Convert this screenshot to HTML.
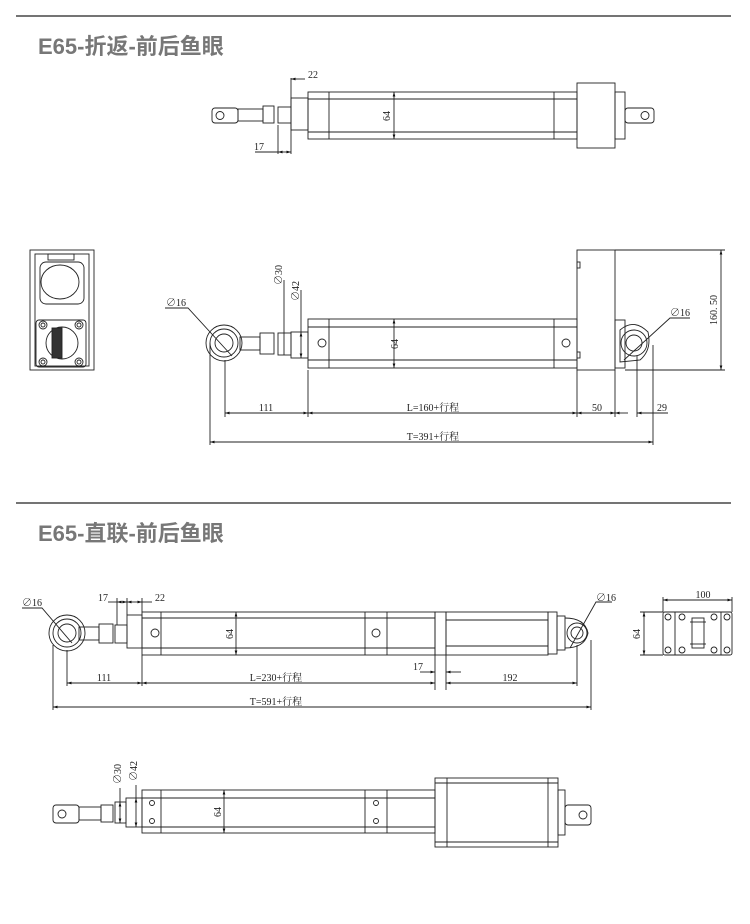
<!DOCTYPE html>
<html><head><meta charset="utf-8"><style>
html,body{margin:0;padding:0;background:#fff}
svg{display:block}
.t{font-family:"Liberation Sans","Noto Sans CJK SC",sans-serif;font-weight:bold;fill:#777;font-size:22px}
.d{font-family:"Liberation Serif","Noto Serif CJK SC",serif;font-size:10px;fill:#222}
</style></head><body>
<svg width="750" height="924" viewBox="0 0 750 924" xmlns="http://www.w3.org/2000/svg">
<defs>
<marker id="a" viewBox="0 0 10 10" refX="10" refY="5" markerWidth="7" markerHeight="5" orient="auto-start-reverse"><path d="M0,2 L10,5 L0,8 z" fill="#111"/></marker>
</defs>
<g fill="none" stroke="#222" stroke-width="0.9">
<line x1="16" y1="16" x2="731" y2="16" stroke-width="1.2"/>
<line x1="16" y1="503" x2="731" y2="503" stroke-width="1.2"/>

<!-- FIG 1 top -->
<rect x="308" y="92" width="269" height="47"/>
<line x1="308" y1="99" x2="577" y2="99"/><line x1="308" y1="132" x2="577" y2="132"/>
<line x1="329" y1="92" x2="329" y2="139"/><line x1="554" y1="92" x2="554" y2="139"/>
<rect x="291" y="98" width="17" height="32"/>
<rect x="278" y="107" width="13" height="16"/>
<rect x="263" y="106" width="11" height="17"/>
<rect x="238" y="109" width="25" height="12"/>
<rect x="212" y="108" width="26" height="15" rx="3"/>
<circle cx="220" cy="115.5" r="4"/>
<rect x="577" y="83" width="38" height="65"/>
<rect x="615" y="92" width="10" height="47"/>
<rect x="625" y="108" width="29" height="15" rx="3"/>
<circle cx="645" cy="115.5" r="4"/>
<line x1="394" y1="92" x2="394" y2="139" marker-start="url(#a)" marker-end="url(#a)"/>
<line x1="291" y1="78" x2="291" y2="154"/><line x1="278" y1="125" x2="278" y2="154"/>
<line x1="305" y1="79" x2="291" y2="79" marker-end="url(#a)"/>
<line x1="255" y1="152" x2="278" y2="152"/><line x1="278" y1="152" x2="291" y2="152" marker-start="url(#a)" marker-end="url(#a)"/>

<!-- FIG 2 end view -->
<rect x="30" y="250" width="64" height="120"/>
<rect x="35" y="254" width="54" height="112"/>
<rect x="48" y="254" width="26" height="6"/>
<ellipse cx="60" cy="282" rx="19" ry="17"/>
<rect x="40" y="262" width="44" height="42" rx="6"/>
<rect x="36" y="320" width="50" height="47" rx="3"/>
<circle cx="62" cy="343" r="16"/>
<rect x="52" y="328" width="10" height="30" fill="#333"/>
<circle cx="43" cy="325" r="4"/><circle cx="43" cy="325" r="2"/>
<circle cx="79" cy="325" r="4"/><circle cx="79" cy="325" r="2"/>
<circle cx="43" cy="362" r="4"/><circle cx="43" cy="362" r="2"/>
<circle cx="79" cy="362" r="4"/><circle cx="79" cy="362" r="2"/>

<!-- FIG 2 side -->
<rect x="308" y="319" width="269" height="49"/>
<line x1="308" y1="327" x2="577" y2="327"/><line x1="308" y1="360" x2="577" y2="360"/>
<line x1="329" y1="319" x2="329" y2="368"/><line x1="554" y1="319" x2="554" y2="368"/>
<circle cx="322" cy="343" r="4"/><circle cx="566" cy="343" r="4"/>
<rect x="577" y="250" width="38" height="120"/>
<rect x="577" y="262" width="3" height="6"/><rect x="577" y="352" width="3" height="6"/>
<rect x="615" y="320" width="10" height="48"/>
<path d="M620,330 Q634,318 648,332 Q652,350 640,360 L620,362 z"/>
<circle cx="634" cy="343" r="13"/><circle cx="634" cy="343" r="8"/>
<rect x="291" y="332" width="17" height="26"/>
<rect x="278" y="333" width="13" height="22"/>
<line x1="284" y1="333" x2="284" y2="355"/>
<rect x="260" y="333" width="14" height="21"/>
<rect x="240" y="337" width="20" height="13"/>
<circle cx="224" cy="343" r="18"/><circle cx="224" cy="343" r="14"/><circle cx="224" cy="343" r="9"/>
<line x1="394" y1="319" x2="394" y2="368" marker-start="url(#a)" marker-end="url(#a)"/>
<line x1="301" y1="332" x2="301" y2="358" marker-start="url(#a)" marker-end="url(#a)"/>
<line x1="284" y1="280" x2="284" y2="333"/><line x1="301" y1="290" x2="301" y2="332"/>
<line x1="210" y1="343" x2="210" y2="445"/><line x1="225" y1="360" x2="225" y2="417"/>
<line x1="308" y1="370" x2="308" y2="417"/><line x1="577" y1="370" x2="577" y2="417"/>
<line x1="615" y1="370" x2="615" y2="417"/><line x1="637" y1="356" x2="637" y2="417"/>
<line x1="653" y1="345" x2="653" y2="445"/>
<line x1="225" y1="413" x2="308" y2="413" marker-start="url(#a)" marker-end="url(#a)"/>
<line x1="308" y1="413" x2="577" y2="413" marker-start="url(#a)" marker-end="url(#a)"/>
<line x1="577" y1="413" x2="615" y2="413" marker-start="url(#a)" marker-end="url(#a)"/>
<line x1="615" y1="413" x2="628" y2="413" marker-start="url(#a)"/>
<line x1="637" y1="413" x2="668" y2="413" marker-start="url(#a)"/>
<line x1="210" y1="442" x2="653" y2="442" marker-start="url(#a)" marker-end="url(#a)"/>
<line x1="615" y1="250" x2="725" y2="250"/><line x1="625" y1="370" x2="725" y2="370"/>
<line x1="721" y1="250" x2="721" y2="370" marker-start="url(#a)" marker-end="url(#a)"/>
<path d="M165,308 L188,308 L232,356"/>
<path d="M690,318 L670,318 L624,360"/>

<!-- FIG 3 -->
<rect x="142" y="612" width="293" height="43"/>
<line x1="142" y1="618" x2="435" y2="618"/><line x1="142" y1="648" x2="435" y2="648"/>
<line x1="161" y1="612" x2="161" y2="655"/><line x1="365" y1="612" x2="365" y2="655"/><line x1="387" y1="612" x2="387" y2="655"/>
<circle cx="155" cy="633" r="4"/><circle cx="376" cy="633" r="4"/>
<rect x="435" y="612" width="11" height="43"/>
<rect x="446" y="612" width="102" height="43"/>
<line x1="446" y1="620" x2="548" y2="620"/><line x1="446" y1="646" x2="548" y2="646"/>
<rect x="548" y="612" width="9" height="42"/><rect x="557" y="616" width="8" height="34"/>
<path d="M565,618 Q585,618 588,633 Q585,648 565,648"/>
<circle cx="577" cy="633" r="10"/><circle cx="577" cy="633" r="6"/>
<rect x="127" y="615" width="15" height="33"/>
<rect x="115" y="625" width="12" height="18"/>
<rect x="99" y="624" width="14" height="19"/>
<rect x="79" y="627" width="20" height="13"/>
<circle cx="67" cy="633" r="18"/><circle cx="67" cy="633" r="14"/><circle cx="67" cy="633" r="9"/>
<line x1="236" y1="612" x2="236" y2="655" marker-start="url(#a)" marker-end="url(#a)"/>
<line x1="117" y1="598" x2="117" y2="625"/><line x1="127" y1="598" x2="127" y2="615"/><line x1="142" y1="598" x2="142" y2="612"/>
<line x1="108" y1="602" x2="117" y2="602"/><line x1="117" y1="602" x2="127" y2="602" marker-start="url(#a)" marker-end="url(#a)"/>
<line x1="127" y1="602" x2="142" y2="602" marker-start="url(#a)" marker-end="url(#a)"/><line x1="142" y1="602" x2="152" y2="602"/>
<line x1="53" y1="645" x2="53" y2="710"/><line x1="67" y1="650" x2="67" y2="686"/>
<line x1="142" y1="655" x2="142" y2="686"/><line x1="435" y1="655" x2="435" y2="690"/><line x1="446" y1="655" x2="446" y2="690"/>
<line x1="577" y1="645" x2="577" y2="686"/><line x1="591" y1="640" x2="591" y2="710"/>
<line x1="67" y1="683" x2="142" y2="683" marker-start="url(#a)" marker-end="url(#a)"/>
<line x1="142" y1="683" x2="435" y2="683" marker-start="url(#a)" marker-end="url(#a)"/>
<line x1="446" y1="683" x2="577" y2="683" marker-start="url(#a)" marker-end="url(#a)"/>
<line x1="420" y1="672" x2="435" y2="672" marker-end="url(#a)"/><line x1="461" y1="672" x2="446" y2="672" marker-end="url(#a)"/>
<line x1="53" y1="707" x2="591" y2="707" marker-start="url(#a)" marker-end="url(#a)"/>
<path d="M22,608 L42,608 L72,643"/>
<path d="M612,602 L596,602 L570,648"/>
<rect x="663" y="612" width="69" height="43" rx="2"/>
<rect x="675" y="612" width="46" height="43"/>
<rect x="692" y="618" width="12" height="30"/><line x1="690" y1="622" x2="706" y2="622"/><line x1="690" y1="644" x2="706" y2="644"/>
<circle cx="668" cy="617" r="3"/><circle cx="682" cy="617" r="3"/><circle cx="714" cy="617" r="3"/><circle cx="727" cy="617" r="3"/>
<circle cx="668" cy="650" r="3"/><circle cx="682" cy="650" r="3"/><circle cx="714" cy="650" r="3"/><circle cx="727" cy="650" r="3"/>
<line x1="663" y1="597" x2="663" y2="612"/><line x1="732" y1="597" x2="732" y2="612"/>
<line x1="663" y1="600" x2="732" y2="600" marker-start="url(#a)" marker-end="url(#a)"/>
<line x1="640" y1="612" x2="663" y2="612"/><line x1="640" y1="655" x2="663" y2="655"/>
<line x1="644" y1="612" x2="644" y2="655" marker-start="url(#a)" marker-end="url(#a)"/>

<!-- FIG 4 -->
<rect x="142" y="790" width="293" height="43"/>
<line x1="142" y1="798" x2="435" y2="798"/><line x1="142" y1="827" x2="435" y2="827"/>
<line x1="161" y1="790" x2="161" y2="833"/><line x1="365" y1="790" x2="365" y2="833"/><line x1="387" y1="790" x2="387" y2="833"/>
<circle cx="152" cy="803" r="2.5"/><circle cx="152" cy="821" r="2.5"/><circle cx="376" cy="803" r="2.5"/><circle cx="376" cy="821" r="2.5"/>
<rect x="435" y="778" width="123" height="69"/>
<line x1="447" y1="778" x2="447" y2="847"/><line x1="548" y1="778" x2="548" y2="847"/>
<line x1="435" y1="783" x2="558" y2="783"/><line x1="435" y1="842" x2="558" y2="842"/>
<rect x="558" y="790" width="7" height="45"/>
<rect x="565" y="805" width="26" height="20" rx="3"/><circle cx="583" cy="815" r="4"/>
<rect x="126" y="798" width="16" height="29"/>
<rect x="115" y="802" width="11" height="21"/>
<rect x="101" y="805" width="12" height="17"/>
<rect x="79" y="807" width="22" height="13"/>
<rect x="53" y="805" width="26" height="18" rx="3"/><circle cx="62" cy="814" r="4"/>
<line x1="224" y1="790" x2="224" y2="833" marker-start="url(#a)" marker-end="url(#a)"/>
<line x1="120" y1="788" x2="120" y2="802"/><line x1="120" y1="802" x2="120" y2="823" marker-start="url(#a)" marker-end="url(#a)"/>
<line x1="136" y1="785" x2="136" y2="798"/><line x1="136" y1="798" x2="136" y2="827" marker-start="url(#a)" marker-end="url(#a)"/>
</g>
<g>
<text class="t" x="38" y="54">E65-折返-前后鱼眼</text>
<text class="t" x="38" y="541">E65-直联-前后鱼眼</text>
</g>
<g class="d">
<text class="d" x="308" y="78">22</text>
<text class="d" x="254" y="150">17</text>
<text class="d" transform="translate(390,116) rotate(-90)" text-anchor="middle">64</text>
<text class="d" x="166" y="306">∅16</text>
<text class="d" x="670" y="316">∅16</text>
<text class="d" transform="translate(282,285) rotate(-90)">∅30</text>
<text class="d" transform="translate(299,301) rotate(-90)">∅42</text>
<text class="d" transform="translate(398,344) rotate(-90)" text-anchor="middle">64</text>
<text class="d" transform="translate(717,310) rotate(-90)" text-anchor="middle">160. 50</text>
<text class="d" x="266" y="411" text-anchor="middle">111</text>
<text class="d" x="433" y="411" text-anchor="middle">L=160+行程</text>
<text class="d" x="597" y="411" text-anchor="middle">50</text>
<text class="d" x="662" y="411" text-anchor="middle">29</text>
<text class="d" x="433" y="440" text-anchor="middle">T=391+行程</text>
<text class="d" x="22" y="606">∅16</text>
<text class="d" x="596" y="601">∅16</text>
<text class="d" x="98" y="601">17</text>
<text class="d" x="155" y="601">22</text>
<text class="d" transform="translate(233,634) rotate(-90)" text-anchor="middle">64</text>
<text class="d" x="104" y="681" text-anchor="middle">111</text>
<text class="d" x="276" y="681" text-anchor="middle">L=230+行程</text>
<text class="d" x="418" y="670" text-anchor="middle">17</text>
<text class="d" x="510" y="681" text-anchor="middle">192</text>
<text class="d" x="276" y="705" text-anchor="middle">T=591+行程</text>
<text class="d" x="703" y="598" text-anchor="middle">100</text>
<text class="d" transform="translate(640,634) rotate(-90)" text-anchor="middle">64</text>
<text class="d" transform="translate(121,784) rotate(-90)">∅30</text>
<text class="d" transform="translate(137,781) rotate(-90)">∅42</text>
<text class="d" transform="translate(221,812) rotate(-90)" text-anchor="middle">64</text>
</g>
</svg>
</body></html>
